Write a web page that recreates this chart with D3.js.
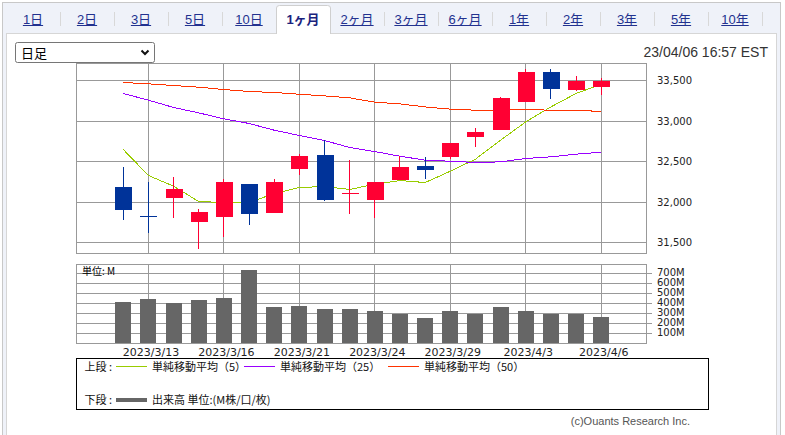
<!DOCTYPE html>
<html>
<head>
<meta charset="utf-8">
<script src="https://cdn.jsdelivr.net/npm/d3@7"></script>
<style>
  body { margin: 0; background: #fff; }
  svg { display: block; }
</style>
</head>
<body>
<script>
/* Candlestick chart, 1 month daily, with MA lines and volume */

const dates = ["2023/3/10", "2023/3/13", "2023/3/14", "2023/3/15", "2023/3/16", "2023/3/17",
               "2023/3/20", "2023/3/21", "2023/3/22", "2023/3/23", "2023/3/24", "2023/3/27",
               "2023/3/28", "2023/3/29", "2023/3/30", "2023/3/31", "2023/4/3", "2023/4/4",
               "2023/4/5", "2023/4/6"];
const open  = [32184, 31830, 32052, 31755, 31817, 32221, 31866, 32411, 32580, 32100,
               32027, 32275, 32444, 32556, 32807, 32894, 33240, 33608, 33389, 33426];
const high  = [32432, 32246, 32308, 31912, 32283, 32230, 32283, 32593, 32766, 32519,
               32250, 32568, 32556, 32735, 32915, 33300, 33645, 33645, 33558, 33533];
const low   = [31780, 31615, 31804, 31421, 31569, 31718, 31860, 32333, 32015, 31854,
               31805, 32270, 32287, 32530, 32679, 32890, 33240, 33277, 33376, 33327];
const close = [31903, 31820, 32160, 31875, 32246, 31854, 32246, 32568, 32027, 32110,
               32246, 32432, 32391, 32729, 32865, 33286, 33608, 33401, 33496, 33496];
const ma5   = [32651, 32329, 32197, 32007, 31995, 31995, 32106, 32181, 32193, 32156,
               32222, 32267, 32242, 32382, 32531, 32766, 32993, 33178, 33344, 33459];
const ma25  = [33344, 33261, 33171, 33104, 33030, 32973, 32890, 32824, 32762, 32676,
               32625, 32568, 32519, 32506, 32490, 32498, 32540, 32560, 32593, 32618];
const ma50  = [33480, 33463, 33443, 33422, 33393, 33369, 33356, 33335, 33314, 33290,
               33236, 33215, 33178, 33150, 33137, 33137, 33146, 33137, 33137, 33121];
const volume = [409, 439, 399, 429, 448, 726, 359, 369, 340, 340,
                320, 290, 251, 320, 290, 359, 320, 290, 290, 261]; // M

const tickDates = ["2023/3/13", "2023/3/16", "2023/3/21", "2023/3/24", "2023/3/29", "2023/4/3", "2023/4/6"];
const priceTicks = [31500, 32000, 32500, 33000, 33500];
const volTicks = [100, 200, 300, 400, 500, 600, 700];

const tabLabels = ["1日", "2日", "3日", "5日", "10日", "1ヶ月", "2ヶ月", "3ヶ月", "6ヶ月", "1年", "2年", "3年", "5年", "10年"];
const activeTab = "1ヶ月";
const legendNames = ["単純移動平均（5）", "単純移動平均（25）", "単純移動平均（50）"];

const width = 785, height = 435;
const upColor = "#ff0033", downColor = "#003399";
const maColors = ["#99cc00", "#9900ff", "#ff3300"];
const gridColor = "#999";
const jp = "'Noto Sans CJK JP', 'Noto Sans', sans-serif";
const num = "'DejaVu Sans', sans-serif";

let svg = d3.select("body").append("svg")
    .attr("width", width)
    .attr("height", height);

// ---- page frame / tabs ----
svg.append("rect")
    .attr("x", 2.5).attr("y", 2.5)
    .attr("width", 778).attr("height", 445)
    .attr("fill", "#eff2f9")
    .attr("stroke", "#c8c8c8");

svg.append("rect")
    .attr("x", 6.5).attr("y", 33.5)
    .attr("width", 770).attr("height", 420)
    .attr("fill", "#fff")
    .attr("stroke", "#d6d6d6");

const tabStep = 54, tabX0 = 33;
const activeIdx = tabLabels.indexOf(activeTab);

// separators
svg.append("g").selectAll("line")
    .data(d3.range(tabLabels.length))
    .join("line")
    .filter(i => i !== activeIdx && i !== activeIdx - 1)
    .attr("x1", i => tabX0 + tabStep / 2 + i * tabStep + 0.5)
    .attr("x2", i => tabX0 + tabStep / 2 + i * tabStep + 0.5)
    .attr("y1", 12).attr("y2", 26)
    .attr("stroke", "#d8d8d8");

// active tab
{
    const l = tabX0 + activeIdx * tabStep - tabStep / 2 + 0.5,
          r = l + tabStep;
    svg.append("path")
        .attr("d", `M${l},34 L${l},8 Q${l},5.5 ${l + 3},5.5 L${r - 3},5.5 Q${r},5.5 ${r},8 L${r},34 Z`)
        .attr("fill", "#fff")
        .attr("stroke", "none");
    svg.append("path")
        .attr("d", `M${l},34 L${l},8 Q${l},5.5 ${l + 3},5.5 L${r - 3},5.5 Q${r},5.5 ${r},8 L${r},34`)
        .attr("fill", "none")
        .attr("stroke", "#cfcfcf");
}

let tabs = svg.append("g").selectAll("g")
    .data(tabLabels)
    .join("g");

tabs.append("text")
    .attr("x", (d, i) => tabX0 + i * tabStep)
    .attr("y", 24)
    .attr("text-anchor", "middle")
    .attr("font-family", "'Liberation Sans', Arial, " + jp)
    .attr("font-size", 13)
    .attr("font-weight", d => d === activeTab ? "bold" : "normal")
    .attr("fill", d => d === activeTab ? "#1a237e" : "#22318f")
    .text(d => d)
    .each(function(d, i) {
        if (d === activeTab) return;
        const w = this.getComputedTextLength();
        const cx = tabX0 + i * tabStep;
        d3.select(this.parentNode).append("line")
            .attr("x1", cx - w / 2).attr("x2", cx + w / 2)
            .attr("y1", 25.5).attr("y2", 25.5)
            .attr("stroke", "#22318f");
    });

// select box
svg.append("rect")
    .attr("x", 15.5).attr("y", 42.5)
    .attr("width", 139).attr("height", 20)
    .attr("rx", 2)
    .attr("fill", "#fff")
    .attr("stroke", "#767676");
svg.append("text")
    .attr("x", 21).attr("y", 57.5)
    .attr("font-family", jp)
    .attr("font-size", 13)
    .attr("fill", "#000")
    .text("日足");
svg.append("path")
    .attr("d", "M141.5,50.5 L145,54 L148.5,50.5")
    .attr("fill", "none")
    .attr("stroke", "#111")
    .attr("stroke-width", 2);

svg.append("text")
    .attr("x", 768).attr("y", 56.5)
    .attr("text-anchor", "end")
    .attr("font-family", "'Liberation Sans', Arial, sans-serif")
    .attr("font-size", 14)
    .attr("fill", "#333")
    .text("23/04/06 16:57 EST");

// ---- scales ----
const left = 76.5, right = 646.5;
const pTop = 63.5, pBottom = 253.5;
const vTop = 264.5, vBottom = 343.5;

let x = d3.scaleLinear()
    .domain([-1.86, 20.8])
    .range([left, right]);

let y = d3.scaleLinear()
    .domain([31364, 33715])
    .range([pBottom, pTop]);

let vy = d3.scaleLinear()
    .domain([0, 785])
    .range([vBottom, vTop]);

const crisp = v => Math.floor(v) + 0.5;
const tickIdx = tickDates.map(d => dates.indexOf(d));

// ---- price panel ----
let grid = svg.append("g")
    .attr("shape-rendering", "crispEdges")
    .attr("stroke", gridColor);

grid.selectAll(".hp")
    .data(priceTicks)
    .join("line")
    .attr("x1", left).attr("x2", right)
    .attr("y1", d => crisp(y(d))).attr("y2", d => crisp(y(d)));

grid.selectAll(".vp")
    .data(tickIdx)
    .join("line")
    .attr("x1", d => crisp(x(d))).attr("x2", d => crisp(x(d)))
    .attr("y1", pTop).attr("y2", pBottom);

svg.append("rect")
    .attr("x", left).attr("y", pTop)
    .attr("width", right - left).attr("height", pBottom - pTop)
    .attr("fill", "none")
    .attr("stroke", gridColor)
    .attr("shape-rendering", "crispEdges");

svg.append("g").selectAll("text")
    .data(priceTicks)
    .join("text")
    .attr("x", 657)
    .attr("y", d => y(d))
    .attr("dominant-baseline", "central")
    .attr("font-family", num)
    .attr("font-size", 10)
    .attr("fill", "#222")
    .text(d => d3.format(",")(d));

// MA lines
const maSeries = [ma5, ma25, ma50];
let maLine = d3.line()
    .x((d, i) => x(i))
    .y(d => y(d));

svg.append("g").selectAll("path")
    .data(maSeries)
    .join("path")
    .attr("d", maLine)
    .attr("fill", "none")
    .attr("stroke", (d, i) => maColors[i])
    .attr("stroke-width", 1)
    .attr("shape-rendering", "crispEdges");

// candles
let candle = svg.append("g")
    .attr("shape-rendering", "crispEdges")
    .selectAll("g")
    .data(dates.map((d, i) => i))
    .join("g")
    .attr("fill", i => close[i] >= open[i] ? upColor : downColor)
    .attr("stroke", i => close[i] >= open[i] ? upColor : downColor);

candle.append("line")
    .attr("x1", i => crisp(x(i))).attr("x2", i => crisp(x(i)))
    .attr("y1", i => y(high[i])).attr("y2", i => y(low[i]));

candle.append("rect")
    .attr("stroke", "none")
    .attr("x", i => Math.round(x(i)) - 8)
    .attr("width", 17)
    .attr("y", i => Math.round(y(Math.max(open[i], close[i]))))
    .attr("height", i => Math.max(1, Math.round(Math.abs(y(open[i]) - y(close[i])))));

// ---- volume panel ----
let vgrid = svg.append("g")
    .attr("shape-rendering", "crispEdges")
    .attr("stroke", gridColor);

vgrid.selectAll(".hv")
    .data(volTicks)
    .join("line")
    .attr("x1", left).attr("x2", right + 5)
    .attr("y1", d => crisp(vy(d))).attr("y2", d => crisp(vy(d)));

vgrid.selectAll(".vv")
    .data(tickIdx)
    .join("line")
    .attr("x1", d => crisp(x(d))).attr("x2", d => crisp(x(d)))
    .attr("y1", vTop).attr("y2", vBottom);

svg.append("text")
    .attr("x", 82).attr("y", 274.5)
    .attr("font-family", jp)
    .attr("font-size", 10)
    .attr("fill", "#000")
    .text("単位: M");

svg.append("g")
    .attr("shape-rendering", "crispEdges")
    .selectAll("rect")
    .data(volume)
    .join("rect")
    .attr("fill", "#666")
    .attr("x", (d, i) => Math.round(x(i)) - 8)
    .attr("width", 16)
    .attr("y", d => Math.round(vy(d)))
    .attr("height", d => Math.round(vBottom - vy(d)));

svg.append("rect")
    .attr("x", left).attr("y", vTop)
    .attr("width", right - left).attr("height", vBottom - vTop)
    .attr("fill", "none")
    .attr("stroke", gridColor)
    .attr("shape-rendering", "crispEdges");

svg.append("g").selectAll("text")
    .data(volTicks)
    .join("text")
    .attr("x", 657)
    .attr("y", d => vy(d) - 1)
    .attr("dominant-baseline", "central")
    .attr("font-family", num)
    .attr("font-size", 10)
    .attr("fill", "#222")
    .text(d => d + "M");

// date labels
svg.append("g").selectAll("text")
    .data(tickIdx)
    .join("text")
    .attr("x", d => x(d) + 2.5)
    .attr("y", 355.5)
    .attr("text-anchor", "middle")
    .attr("font-family", num)
    .attr("font-size", 11)
    .attr("fill", "#222")
    .text(d => dates[d]);

// ---- legend ----
svg.append("rect")
    .attr("x", 76.5).attr("y", 358.5)
    .attr("width", 632).attr("height", 51)
    .attr("fill", "none")
    .attr("stroke", "#000")
    .attr("shape-rendering", "crispEdges");

const legRow1 = 366.5, legRow2 = 400;
const legStarts = [116, 244, 388];

let legText = (tx, ty, s) => svg.append("text")
    .attr("x", tx).attr("y", ty + 4)
    .attr("font-family", jp)
    .attr("font-size", 11)
    .attr("fill", "#111")
    .text(s);

legText(84.5, legRow1, "上段 :");
legText(84.5, legRow2, "下段 :");

let leg = svg.append("g").selectAll("g")
    .data(legendNames)
    .join("g");

leg.append("line")
    .attr("x1", (d, i) => legStarts[i]).attr("x2", (d, i) => legStarts[i] + 31)
    .attr("y1", legRow1).attr("y2", legRow1)
    .attr("stroke", (d, i) => maColors[i])
    .attr("shape-rendering", "crispEdges");

leg.append("text")
    .attr("x", (d, i) => legStarts[i] + 36)
    .attr("y", legRow1 + 4)
    .attr("font-family", jp)
    .attr("font-size", 11)
    .attr("fill", "#111")
    .text(d => d);

svg.append("line")
    .attr("x1", 116).attr("x2", 147)
    .attr("y1", legRow2).attr("y2", legRow2)
    .attr("stroke", "#666")
    .attr("stroke-width", 4);
legText(152, legRow2, "出来高 単位:(M株/口/枚)");

svg.append("text")
    .attr("x", 690).attr("y", 425)
    .attr("text-anchor", "end")
    .attr("font-family", "'Liberation Sans', Arial, sans-serif")
    .attr("font-size", 11)
    .attr("fill", "#555")
    .text("(c)Ouants Research Inc.");
</script>
</body>
</html>
